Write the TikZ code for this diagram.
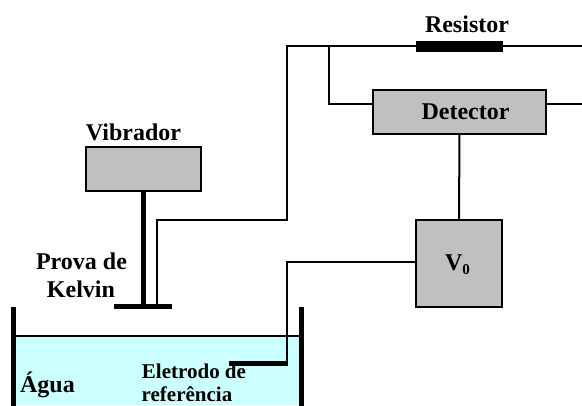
\documentclass[tikz,border=0pt]{standalone}
\usepackage{fontspec}
\setmainfont{Liberation Serif}[BoldFont={Liberation Serif Bold}]
\definecolor{water}{HTML}{CCFFFF}
\definecolor{boxgrey}{HTML}{C0C0C0}
\tikzset{
  box/.style={draw=black,fill=boxgrey,line width=2pt,inner sep=0pt,minimum width=#1},
  wire/.style={draw=black,line width=2pt,line join=miter},
  thick bar/.style={draw=black,line width=5pt,line cap=butt},
  lab/.style={font=\fontsize{24}{24}\selectfont\bfseries,inner sep=0pt,anchor=base,align=center},
  small lab/.style={lab,font=\fontsize{21}{21}\selectfont\bfseries},
}
\begin{document}
\begin{tikzpicture}[x=1pt,y=-1pt]
\useasboundingbox (0,0) rectangle (582,406);
\fill[white] (0,0) rectangle (582,406);
% water
\fill[fill=water] (15,336) rectangle (301,405);
\coordinate (wl) at (13,336); \coordinate (wr) at (301,336);
\draw[wire] (wl) -- (wr);
\coordinate (tl1) at (13.5,307); \coordinate (tl2) at (13.5,406);
\coordinate (tr1) at (301,307); \coordinate (tr2) at (301,406);
\draw[thick bar] (tl1) -- (tl2);
\draw[thick bar] (tr1) -- (tr2);
% boxes
\node[box=115pt,minimum height=43.5pt] (vib) at (143,169) {};
\node[box=172.5pt,minimum height=43.5pt] (det) at (459.5,112) {};
\node[box=86pt,minimum height=86.5pt] (v0) at (459,263.5) {};
% resistor
\node[fill=black,minimum width=87pt,minimum height=11pt,inner sep=0pt] (res) at (459.5,46.5) {};
% probe
\node[fill=black,minimum width=58pt,minimum height=5.5pt,inner sep=0pt] (plate) at (143,306.5) {};
\draw[thick bar] (vib.south) -- (plate.center);
% wires
\coordinate (rightA) at (582,46.5);
\coordinate (rightB) at (582,104.5);
\coordinate (corner) at (287,46.5);
\coordinate (branch) at (329,46.5);
\coordinate (pfoot) at (157,305);
\draw[wire] (pfoot) |- (287,220) -- (corner) -- (res.west);
\draw[wire] (res.east) -- (rightA);
\draw[wire] (branch) |- (det.west |- 0,104.5);
\draw[wire] (det.east |- rightB) -- (rightB);
\draw[wire] (det.south) -- (v0.north);
\coordinate (elec) at (229,364);
\draw[wire] (v0.west |- 0,262.5) -- (287,262.5) -- (287,364);
\fill (229,361.5) rectangle (288,366.5);
% labels
\node[lab] (tres) at (467,32.5) {Resistor};
\node[lab] (tdet) at (465.5,119.5) {Detector};
\node[lab] (tvib) at (133.5,140.5) {Vibrador};
\node[lab] (tprova) at (81.5,270) {Prova de};
\node[lab] (tkel) at (81,298) {Kelvin};
\node[lab] (tv) at (457.5,271) {V\raisebox{-4pt}{\fontsize{15}{15}\selectfont 0}};
\node[lab] (tagua) at (47.5,393) {Água};
\node[small lab] (tele) at (194,379) {Eletrodo de};
\node[small lab] (tref) at (187,402) {referência};
\end{tikzpicture}
\end{document}
